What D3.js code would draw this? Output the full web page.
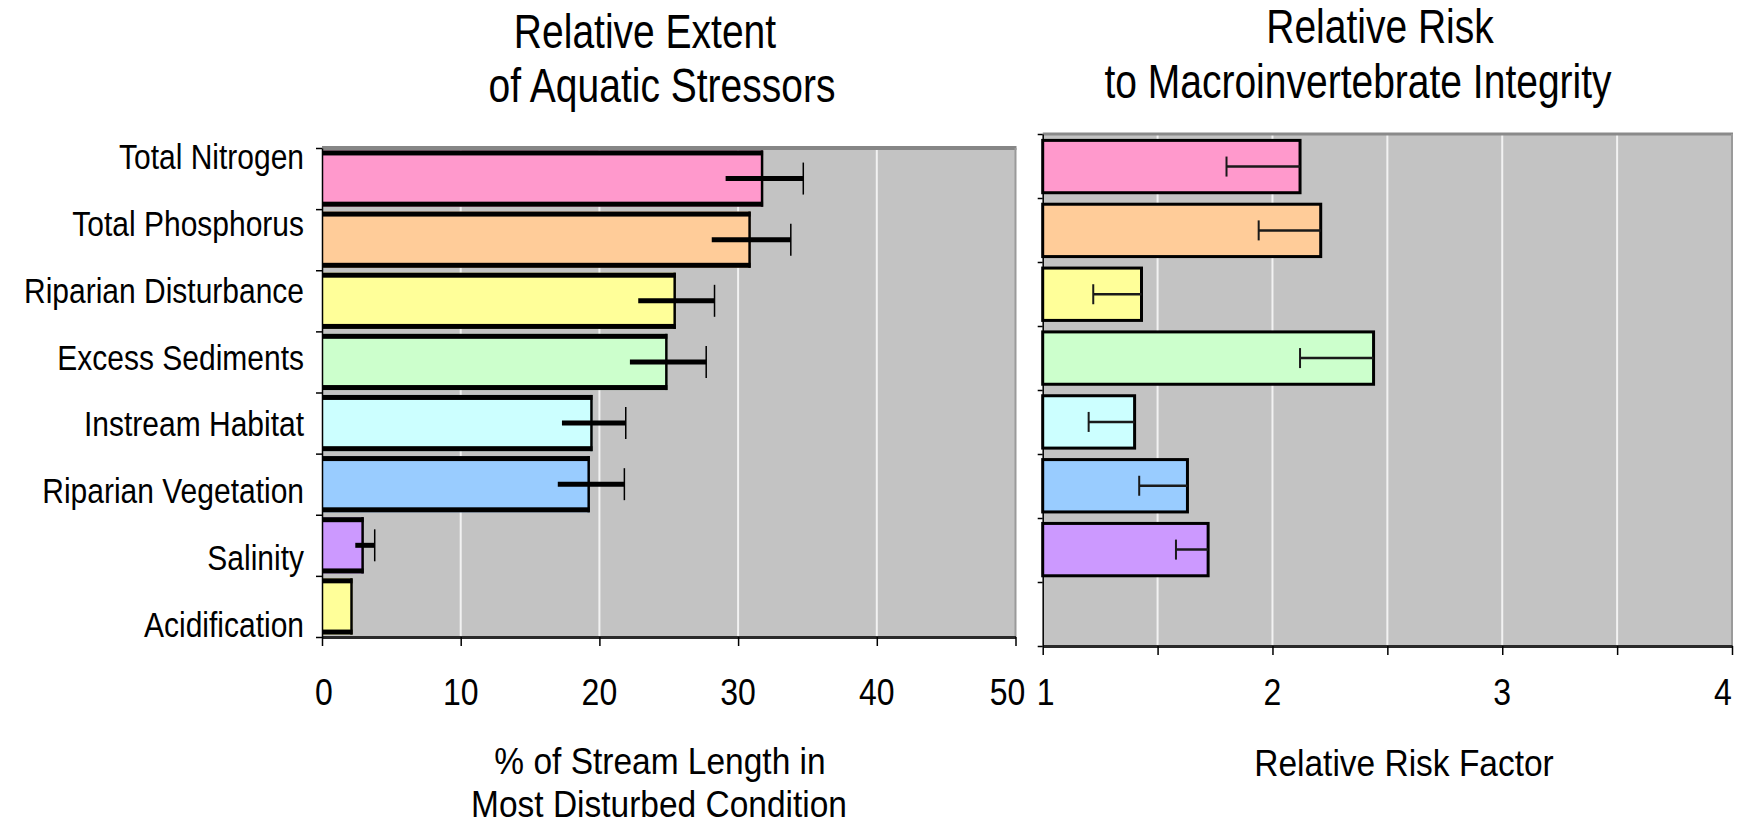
<!DOCTYPE html>
<html>
<head>
<meta charset="utf-8">
<script src="https://cdn.jsdelivr.net/npm/d3@7"></script>
<style>
  html, body { margin: 0; padding: 0; background: #fff; }
  text { font-family: "Liberation Sans", Arial, sans-serif; fill: #000; }
</style>
</head>
<body>
<svg id="chart" width="1740" height="825"></svg>
<script>
// ---- data ----
const stressors = ["Total Nitrogen", "Total Phosphorus", "Riparian Disturbance", "Excess Sediments",
                   "Instream Habitat", "Riparian Vegetation", "Salinity", "Acidification"];
const barColors = ["#ff99cc", "#ffcc99", "#ffff99", "#ccffcc", "#ccffff", "#99ccff", "#cc99ff", "#ffff99"];

// % of stream length in most disturbed condition, with confidence bounds
const extentPct  = [31.8, 30.9, 25.5, 24.9, 19.5, 19.3, 3.0, 2.2];
const extentLow  = [29.1, 28.1, 22.8, 22.2, 17.3, 17.0, 2.4, null];
const extentHigh = [34.7, 33.8, 28.3, 27.7, 21.9, 21.8, 3.8, null];

// relative risk to macroinvertebrate integrity, with lower bound
const riskFactor = [2.12, 2.21, 1.43, 2.44, 1.40, 1.63, 1.72, null];
const riskLow    = [1.80, 1.94, 1.22, 2.12, 1.20, 1.42, 1.58, null];

const extentTicks = [0, 10, 20, 30, 40, 50];
const extentGrid  = [10, 20, 30, 40];
const riskTicks   = [1, 1.5, 2, 2.5, 3, 3.5, 4];
const riskLabels  = [1, 2, 3, 4];
const riskGrid    = [1.5, 2, 2.5, 3, 3.5];

// ---- layout ----
const SY = 1.15;              // tall, narrow lettering
const SY_TITLE = 1.24;
const SY_AXIS = 1.12;
const L = { x0: 322, x1: 1015.5, y0: 148, y1: 637 };
const R = { x0: 1042.7, x1: 1732, y0: 134, y1: 646 };
const plotBg = "#c3c3c3";
const gridCol = "#f2f2f2";

const svg = d3.select("#chart");
svg.append("rect").attr("width", 1740).attr("height", 825).attr("fill", "#fff");

function label(parent, x, y, str, size, anchor, sy) {
  const g = parent.append("g").attr("transform", `translate(${x},${y}) scale(1,${sy || SY})`);
  g.append("text").attr("text-anchor", anchor || "middle")
    .attr("font-size", size).text(str);
  return g;
}

function styleAxis(ax, domainColor, domainWidth) {
  ax.select(".domain").attr("stroke", domainColor).attr("stroke-width", domainWidth);
  ax.selectAll(".tick line").attr("stroke", "#000").attr("stroke-width", 1.5);
  ax.selectAll(".tick text").remove();
}

const rows = stressors.map((s, i) => ({
  name: s, color: barColors[i],
  pct: extentPct[i], lo: extentLow[i], hi: extentHigh[i],
  risk: riskFactor[i], rlo: riskLow[i]
}));

// ================= left panel: extent =================
const xL = d3.scaleLinear().domain([0, 50]).range([L.x0, L.x1]);
const yL = d3.scaleBand().domain(stressors).range([L.y0, L.y1]).paddingInner(0.08).paddingOuter(0.04);
const yLtick = d3.scaleLinear().domain([0, stressors.length]).range([L.y0, L.y1]);
const yLlab = d3.scalePoint().domain(stressors).range([159, 627]);

const left = svg.append("g");
left.append("rect").attr("x", L.x0).attr("y", L.y0)
  .attr("width", L.x1 - L.x0).attr("height", L.y1 - L.y0).attr("fill", plotBg);
left.selectAll("line.grid").data(extentGrid).join("line").attr("class", "grid")
  .attr("x1", d => xL(d)).attr("x2", d => xL(d)).attr("y1", L.y0).attr("y2", L.y1)
  .attr("stroke", gridCol).attr("stroke-width", 2);
// frame: top and right edges
left.append("line").attr("x1", L.x0).attr("x2", L.x1 + 1).attr("y1", L.y0).attr("y2", L.y0)
  .attr("stroke", "#868686").attr("stroke-width", 4);
left.append("line").attr("x1", L.x1).attr("x2", L.x1).attr("y1", L.y0).attr("y2", L.y1)
  .attr("stroke", "#9a9a9a").attr("stroke-width", 2);

const lb = left.selectAll("g.bar").data(rows).join("g").attr("class", "bar");
lb.append("rect").attr("x", xL(0)).attr("y", d => yL(d.name))
  .attr("width", d => xL(d.pct) - xL(0)).attr("height", yL.bandwidth()).attr("fill", d => d.color);
lb.append("rect").attr("x", xL(0)).attr("y", d => yL(d.name))
  .attr("width", d => xL(d.pct) - xL(0)).attr("height", 5).attr("fill", "#000");
lb.append("rect").attr("x", xL(0)).attr("y", d => yL(d.name) + yL.bandwidth() - 5)
  .attr("width", d => xL(d.pct) - xL(0)).attr("height", 5).attr("fill", "#000");
lb.append("line").attr("x1", d => xL(d.pct) - 1).attr("x2", d => xL(d.pct) - 1)
  .attr("y1", d => yL(d.name)).attr("y2", d => yL(d.name) + yL.bandwidth())
  .attr("stroke", "#000").attr("stroke-width", 2.5);

const le = left.selectAll("g.err").data(rows.filter(d => d.lo != null)).join("g").attr("class", "err");
le.append("line").attr("x1", d => xL(d.lo)).attr("x2", d => xL(d.hi))
  .attr("y1", d => yL(d.name) + yL.bandwidth() / 2).attr("y2", d => yL(d.name) + yL.bandwidth() / 2)
  .attr("stroke", "#000").attr("stroke-width", 5);
le.append("line").attr("x1", d => xL(d.hi)).attr("x2", d => xL(d.hi))
  .attr("y1", d => yL(d.name) + yL.bandwidth() / 2 - 16).attr("y2", d => yL(d.name) + yL.bandwidth() / 2 + 16)
  .attr("stroke", "#000").attr("stroke-width", 1.5);

// axes
const axL = left.append("g").attr("transform", `translate(0,${L.y1})`)
  .call(d3.axisBottom(xL).tickValues(extentTicks).tickSize(9).tickSizeOuter(0));
styleAxis(axL, "#2a2a2a", 3);

const ayL = left.append("g").attr("transform", `translate(${L.x0},0)`)
  .call(d3.axisLeft(yLtick).ticks(stressors.length).tickSize(6).tickSizeOuter(0));
styleAxis(ayL, "#000", 1.5);

// tick labels
extentTicks.forEach(t => {
  const dx = t === 50 ? -8 : (t === 0 ? 2 : 0);
  label(svg, xL(t) + dx, 705, String(t), 32, "middle");
});
rows.forEach(d => {
  label(svg, 304, yLlab(d.name) + 10, d.name, 30, "end");
});

// titles
label(svg, 645, 48, "Relative Extent", 39, "middle", SY_TITLE);
label(svg, 662, 102, "of Aquatic Stressors", 39, "middle", SY_TITLE);
label(svg, 660, 774, "% of Stream Length in", 33.5, "middle", SY_AXIS);
label(svg, 659, 817, "Most Disturbed Condition", 33.5, "middle", SY_AXIS);

// ================= right panel: relative risk =================
const xR = d3.scaleLinear().domain([1, 4]).range([R.x0, R.x1]);
const yR = d3.scaleBand().domain(stressors).range([R.y0, R.y1]).paddingInner(0.18).paddingOuter(0.1);
const yRtick = d3.scaleLinear().domain([0, stressors.length]).range([R.y0, R.y1]);

const right = svg.append("g");
right.append("rect").attr("x", R.x0).attr("y", R.y0)
  .attr("width", R.x1 - R.x0).attr("height", R.y1 - R.y0).attr("fill", plotBg);
right.selectAll("line.grid").data(riskGrid).join("line").attr("class", "grid")
  .attr("x1", d => xR(d)).attr("x2", d => xR(d)).attr("y1", R.y0).attr("y2", R.y1)
  .attr("stroke", gridCol).attr("stroke-width", 2);
right.append("line").attr("x1", R.x0).attr("x2", R.x1 + 1).attr("y1", R.y0).attr("y2", R.y0)
  .attr("stroke", "#8a8a8a").attr("stroke-width", 3);
right.append("line").attr("x1", R.x1).attr("x2", R.x1).attr("y1", R.y0).attr("y2", R.y1)
  .attr("stroke", "#9a9a9a").attr("stroke-width", 2);

const rRows = rows.filter(d => d.risk != null);
right.selectAll("rect.bar").data(rRows).join("rect").attr("class", "bar")
  .attr("x", xR(1)).attr("y", d => yR(d.name))
  .attr("width", d => xR(d.risk) - xR(1)).attr("height", yR.bandwidth())
  .attr("fill", d => d.color).attr("stroke", "#000").attr("stroke-width", 3);

const re = right.selectAll("g.err").data(rRows).join("g").attr("class", "err");
re.append("line").attr("x1", d => xR(d.rlo)).attr("x2", d => xR(d.risk))
  .attr("y1", d => yR(d.name) + yR.bandwidth() / 2).attr("y2", d => yR(d.name) + yR.bandwidth() / 2)
  .attr("stroke", "#1a1a1a").attr("stroke-width", 2.5);
re.append("line").attr("x1", d => xR(d.rlo)).attr("x2", d => xR(d.rlo))
  .attr("y1", d => yR(d.name) + yR.bandwidth() / 2 - 10).attr("y2", d => yR(d.name) + yR.bandwidth() / 2 + 10)
  .attr("stroke", "#1a1a1a").attr("stroke-width", 2);

const axR = right.append("g").attr("transform", `translate(0,${R.y1})`)
  .call(d3.axisBottom(xR).tickValues(riskTicks).tickSize(9).tickSizeOuter(0));
styleAxis(axR, "#2a2a2a", 3);

const ayR = right.append("g").attr("transform", `translate(${R.x0},0)`)
  .call(d3.axisLeft(yRtick).ticks(stressors.length).tickSize(5).tickSizeOuter(0));
styleAxis(ayR, "#000", 1.5);

riskLabels.forEach(t => {
  const dx = t === 4 ? -9 : (t === 1 ? 3 : 0);
  label(svg, xR(t) + dx, 705, String(t), 32, "middle");
});

label(svg, 1380, 43, "Relative Risk", 39, "middle", SY_TITLE);
label(svg, 1358, 98, "to Macroinvertebrate Integrity", 39, "middle", SY_TITLE);
label(svg, 1404, 776, "Relative Risk Factor", 33.5, "middle", SY_AXIS);
</script>
</body>
</html>
